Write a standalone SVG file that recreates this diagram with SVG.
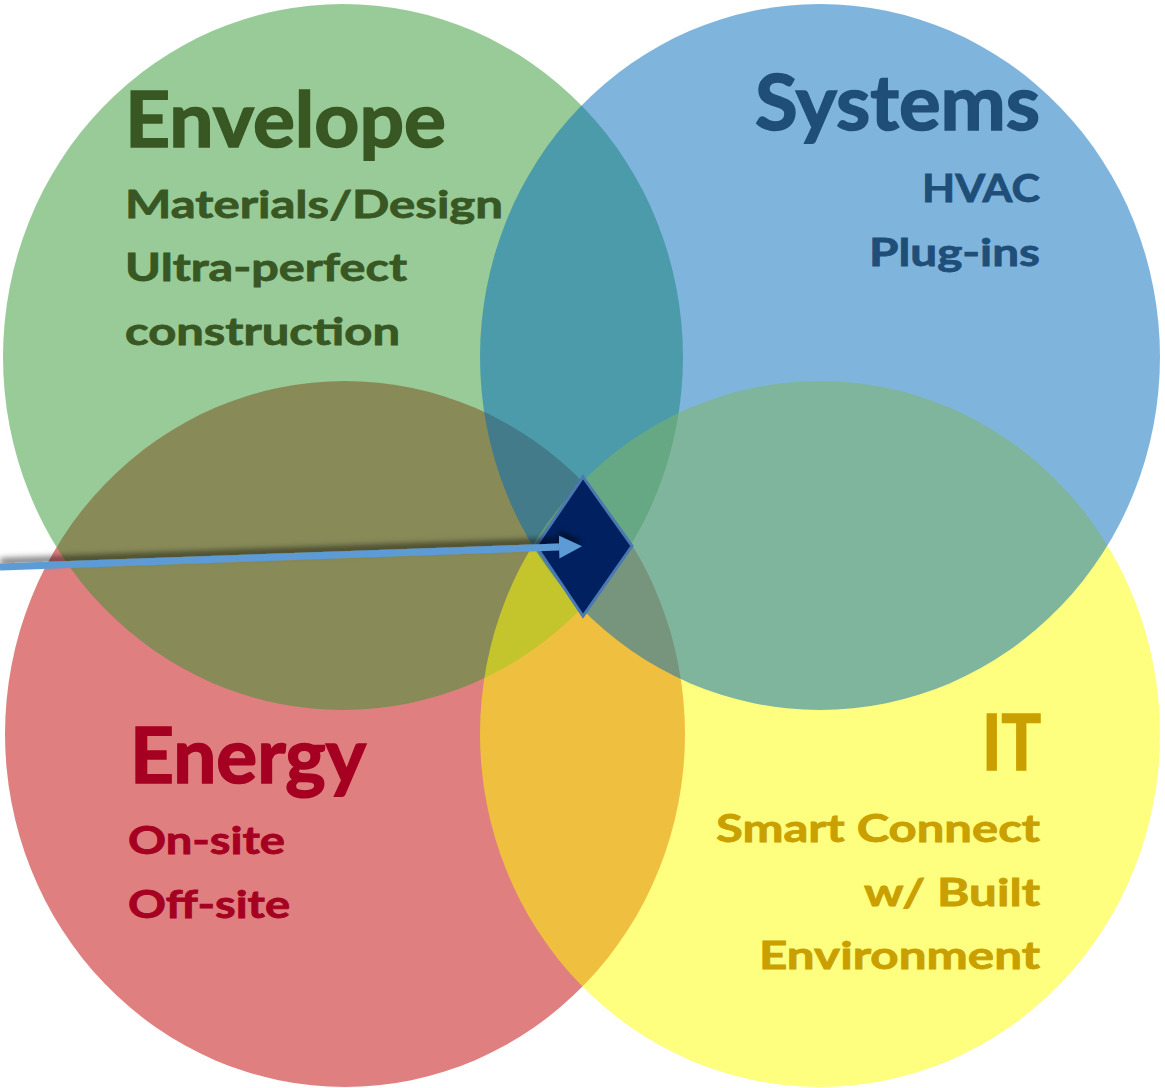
<svg xmlns="http://www.w3.org/2000/svg" width="1165" height="1088" viewBox="0 0 1165 1088">
<style>
.c{fill-opacity:0.5}
text{font-family:Lato,"Open Sans","Liberation Sans",sans-serif;font-weight:700}
.t{font-size:76px;stroke-width:1.6px}
.s{font-size:38px;stroke-width:0.8px}
.env{fill:#385723;stroke:#385723}
.sys{fill:#1F4E79;stroke:#1F4E79}
.ene{fill:#A50021;stroke:#A50021}
.it{fill:#C9A000;stroke:#C9A000}
</style>
<defs>
<filter id="sh" x="-10%" y="-200%" width="120%" height="500%">
<feDropShadow dx="0" dy="-5" stdDeviation="3" flood-color="#000" flood-opacity="0.55"/>
</filter>
<marker id="ah" markerUnits="userSpaceOnUse" markerWidth="24" markerHeight="24" refX="0" refY="12" orient="auto">
<path d="M0,0.5 L23,12 L0,23.5 Z" fill="#5B9BD5"/>
</marker>
</defs>
<rect width="1165" height="1088" fill="#fff"/>
<g id="circles">
<ellipse id="c-energy" class="c" cx="345" cy="734" rx="340" ry="353" fill="#BF0000"/>
<ellipse id="c-envelope" class="c" cx="343" cy="357" rx="340" ry="353" fill="#319731"/>
<ellipse id="c-it" class="c" cx="820" cy="734" rx="340" ry="353" fill="#FFFF00"/>
<ellipse id="c-systems" class="c" cx="820" cy="357" rx="340" ry="353" fill="#006BBB"/>
</g>
<g id="center">
<polygon points="583,477 632,546 583,616 536,546" fill="#002060" stroke="#4A78B0" stroke-width="3"/>
</g>
<g id="connectors">
<line x1="0" y1="567" x2="559" y2="547" stroke="#5B9BD5" stroke-width="7" marker-end="url(#ah)" filter="url(#sh)"/>
</g>
<g id="envelope">
<text class="t env" x="125" y="147" textLength="321" lengthAdjust="spacingAndGlyphs">Envelope</text>
<text class="s env" x="125" y="218" textLength="378" lengthAdjust="spacingAndGlyphs">Materials/Design</text>
<text class="s env" x="125" y="281" textLength="282" lengthAdjust="spacingAndGlyphs">Ultra-perfect</text>
<text class="s env" x="125" y="345" textLength="275" lengthAdjust="spacingAndGlyphs">construction</text>
</g>
<g id="systems">
<text class="t sys" x="755" y="130" textLength="285" lengthAdjust="spacingAndGlyphs">Systems</text>
<text class="s sys" x="922" y="202" textLength="118" lengthAdjust="spacingAndGlyphs">HVAC</text>
<text class="s sys" x="869" y="266" textLength="171" lengthAdjust="spacingAndGlyphs">Plug-ins</text>
</g>
<g id="energy">
<text class="t ene" x="130" y="783" textLength="236" lengthAdjust="spacingAndGlyphs">Energy</text>
<text class="s ene" x="128" y="854" textLength="157" lengthAdjust="spacingAndGlyphs">On-site</text>
<text class="s ene" x="128" y="918" textLength="162" lengthAdjust="spacingAndGlyphs">Off-site</text>
</g>
<g id="it">
<text class="t it" x="982" y="770" textLength="59" lengthAdjust="spacingAndGlyphs">IT</text>
<text class="s it" x="716" y="842" textLength="324" lengthAdjust="spacingAndGlyphs">Smart Connect</text>
<text class="s it" x="864" y="906" textLength="176" lengthAdjust="spacingAndGlyphs">w/ Built</text>
<text class="s it" x="759" y="969" textLength="281" lengthAdjust="spacingAndGlyphs">Environment</text>
</g>
</svg>
